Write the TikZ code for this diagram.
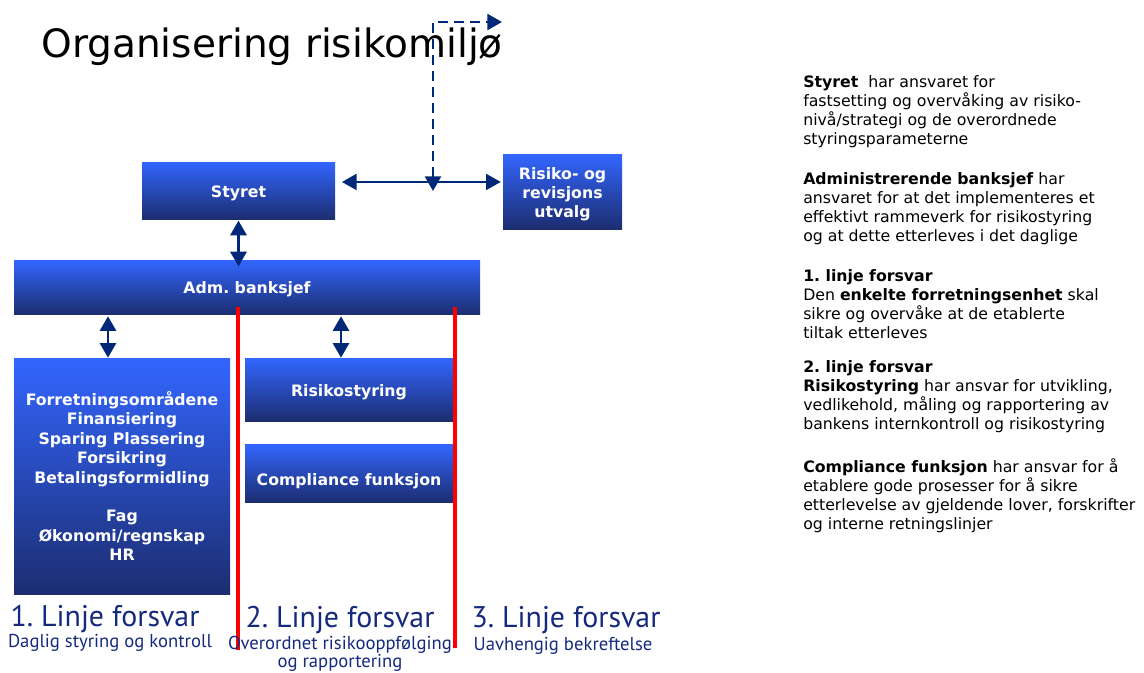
\documentclass[tikz,border=0pt]{standalone}
\usepackage{fontspec}
\setmainfont{DejaVu Sans}
\newfontfamily\labelfont{PT Sans}
\usetikzlibrary{arrows.meta}
\definecolor{navy}{RGB}{0,40,120}
\definecolor{boxtop}{RGB}{51,102,255}
\definecolor{boxmid}{RGB}{44,82,205}
\definecolor{boxbot}{RGB}{28,45,112}
\definecolor{lblblue}{RGB}{22,42,125}
\frenchspacing
\begin{document}
\begin{tikzpicture}[x=0.75pt,y=-0.75pt,
  bluebox/.style={rectangle, top color=boxtop, middle color=boxmid, bottom color=boxbot,
    text=white, font=\bfseries\fontsize{11.8}{14.6}\selectfont, align=center, inner sep=0pt},
  dblarrow/.style={navy, line width=2.2pt, {Triangle[width=12pt,length=11pt]}-{Triangle[width=12pt,length=11pt]}},
  harrow/.style={navy, line width=1.5pt, {Triangle[width=12pt,length=11pt]}-{Triangle[width=12pt,length=11pt]}},
  dasharrow/.style={navy, line width=1.8pt, dash pattern=on 7.5pt off 4.5pt, {Triangle[width=12pt,length=11pt]}-{Triangle[width=12pt,length=11pt]}},
  redline/.style={red, line width=2.3pt},
  sidetext/.style={anchor=north west, align=left, inner sep=0pt, font=\fontsize{11.8}{14.25}\selectfont},
  linetitle/.style={text=lblblue, inner sep=0pt, font=\labelfont\fontsize{22.4}{26}\selectfont},
  linesub/.style={text=lblblue, inner sep=0pt, align=center, font=\labelfont\fontsize{14}{12.75}\selectfont}
]
\useasboundingbox (0,0) rectangle (1144,672);

% title
\node[anchor=west, inner sep=0pt, font=\fontsize{29.3}{34}\selectfont] (title) at (41,47) {Organisering risikomiljø};

% boxes
\node[bluebox, minimum width=144.75pt, minimum height=42.75pt] (styret) at (238.5,190.5) {\raisebox{-2pt}[\height][\depth]{Styret}};
\node[bluebox, minimum width=89.25pt, minimum height=56.25pt] (risiko) at (562.5,191.5) {\raisebox{-2pt}[\height][\depth]{\shortstack{Risiko- og\\revisjons\\utvalg}}};
\node[bluebox, minimum width=349.5pt, minimum height=40.5pt] (adm) at (247,287) {\raisebox{-1.5pt}[\height][\depth]{Adm. banksjef}};
\node[bluebox, minimum width=162pt, minimum height=177pt] (forr) at (122,476) {Forretningsområdene\\Finansiering\\Sparing Plassering\\Forsikring\\Betalingsformidling\\[14.6pt]Fag\\Økonomi/regnskap\\HR};
\node[bluebox, minimum width=156pt, minimum height=47.25pt] (rstyr) at (349,389.5) {\raisebox{-2.2pt}[\height][\depth]{Risikostyring}};
\node[bluebox, minimum width=156pt, minimum height=43.5pt] (compl) at (349,473) {\raisebox{-6pt}[\height][\depth]{Compliance funksjon}};

% arrows
\draw[dblarrow] ([yshift=-1pt]styret.south) -- ([yshift=-5pt]styret.south |- adm.north);
\draw[dblarrow] ([xshift=-10.5pt,yshift=-1.5pt]forr.north |- adm.south) -- ([xshift=-10.5pt]forr.north);
\draw[dblarrow] ([xshift=-6pt,yshift=-1.5pt]rstyr.north |- adm.south) -- ([xshift=-6pt]rstyr.north);
\draw[harrow] ([xshift=5pt,yshift=6.4pt]styret.east) -- ([xshift=-1.5pt,yshift=6.4pt]styret.east -| risiko.west);

\coordinate (djoin) at (433,191);
\coordinate (dtop) at (433,22);
\coordinate (dend) at (502,22);
\draw[dasharrow] (djoin) -- (dtop) -- (dend);

% red lines
\coordinate (r1t) at (238,307);
\coordinate (r1b) at (238,650);
\coordinate (r2t) at (455,307);
\coordinate (r2b) at (455,648);
\draw[redline] (r1t) -- (r1b);
\draw[redline] (r2t) -- (r2b);

% bottom labels
\node[linetitle] (l1) at (105,619) {1. Linje forsvar};
\node[linesub] (s1) at (110,643) {Daglig styring og kontroll};
\node[linetitle] (l2) at (340,620) {2. Linje forsvar};
\node[linesub] (s2) at (340,654) {Overordnet risikooppfølging\\og rapportering};
\node[linetitle] (l3) at (566,620) {3. Linje forsvar};
\node[linesub] (s3) at (563,646) {Uavhengig bekreftelse};

% side text
\node[sidetext] (t1) at (803,75) {\textbf{Styret}\ \ har ansvaret for\\fastsetting og overvåking av risiko-\\nivå/strategi og de overordnede\\styringsparameterne};
\node[sidetext] (t2) at (803,172) {\textbf{Administrerende banksjef} har\\ansvaret for at det implementeres et\\effektivt rammeverk for risikostyring\\og at dette etterleves i det daglige};
\node[sidetext] (t3) at (803,269) {\textbf{1. linje forsvar}\\Den \textbf{enkelte forretningsenhet} skal\\sikre og overvåke at de etablerte\\tiltak etterleves};
\node[sidetext] (t4) at (803,360) {\textbf{2. linje forsvar}\\\textbf{Risikostyring} har ansvar for utvikling,\\vedlikehold, måling og rapportering av\\bankens internkontroll og risikostyring};
\node[sidetext] (t5) at (803,458) {\textbf{Compliance funksjon} har ansvar for å\\etablere gode prosesser for å sikre\\etterlevelse av gjeldende lover, forskrifter\\og interne retningslinjer};
\end{tikzpicture}
\end{document}
